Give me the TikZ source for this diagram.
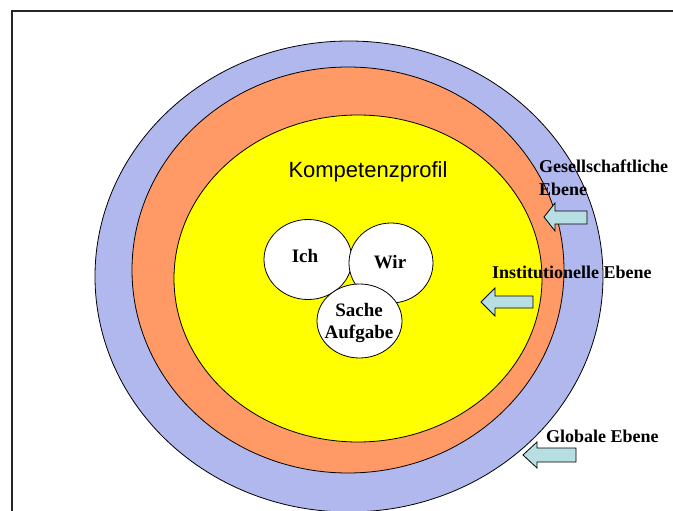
\documentclass[tikz,border=0pt]{standalone}
\usepackage{fontspec}
\setmainfont{Liberation Serif}
\newfontfamily\arialfont{Liberation Sans}
\usetikzlibrary{shapes.geometric}
\definecolor{ringblue}{RGB}{176,184,238}
\definecolor{ringorange}{RGB}{255,153,102}
\definecolor{ringyellow}{RGB}{255,255,0}
\definecolor{arrowfill}{RGB}{183,222,224}
\tikzset{
  ring/.style={draw=black, line width=0.8pt},
  bubble/.style={ellipse, draw=black, fill=white, line width=0.8pt, inner sep=0pt},
  bubbletext/.style={font=\bfseries\fontsize{19}{22}\selectfont, anchor=base, inner sep=0pt},
  leveltext/.style={font=\bfseries\fontsize{18}{23}\selectfont, anchor=base west, inner sep=0pt, align=left},
  blockarrow/.style={draw=black, fill=arrowfill, line width=0.8pt, line join=miter},
}
\begin{document}
\begin{tikzpicture}[x=1pt,y=-1pt]
\useasboundingbox (0,0) rectangle (673,511);
\fill[white] (0,0) rectangle (673,511);
% frame
\coordinate (ftr) at (673,10.7);
\coordinate (ftl) at (12.3,10.7);
\coordinate (fbl) at (12.3,511);
\draw[line width=2pt, draw=black!85] (ftr) -- (ftl) -- (fbl);
% rings
\draw[ring, fill=ringblue] (349,276.5) ellipse [x radius=254pt, y radius=235.5pt];
\draw[ring, fill=ringorange] (348,270) ellipse [x radius=216pt, y radius=203pt];
\draw[ring, fill=ringyellow] (358,278.5) ellipse [x radius=184pt, y radius=163.5pt];
% title
\node[font=\arialfont\fontsize{22}{26}\selectfont, anchor=base, inner sep=0pt] (title) at (368,177) {Kompetenzprofil};
% bubbles
\node[bubble, minimum width=88pt, minimum height=80pt] (ich) at (308,259.5) {};
\node[bubble, minimum width=84pt, minimum height=80pt] (wir) at (391,263) {};
\node[bubble, minimum width=85pt, minimum height=74pt] (sache) at (359.5,321) {};
\node[bubbletext] (ichtext) at (305,262.5) {Ich};
\node[bubbletext] (wirtext) at (390,268) {Wir};
\node[bubbletext] (sachetext) at (359,316) {Sache};
\node[bubbletext] (aufgabetext) at (359,338) {Aufgabe};
% level labels
\node[leveltext] (gesell) at (539,172) {Gesellschaftliche};
\node[leveltext] (gesell2) at (539,195) {Ebene};
\node[leveltext] (inst) at (492,278) {Institutionelle Ebene};
\node[leveltext] (glob) at (546,442) {Globale Ebene};
% block arrows
\draw[blockarrow] (544,217) -- (555,203) -- (555,211) -- (587,211) -- (587,224) -- (555,224) -- (555,231) -- cycle;
\draw[blockarrow] (481,302) -- (495,288) -- (495,296) -- (533,296) -- (533,308) -- (495,308) -- (495,316) -- cycle;
\draw[blockarrow] (523,455) -- (537,442) -- (537,448) -- (576,448) -- (576,462) -- (537,462) -- (537,468) -- cycle;
\end{tikzpicture}
\end{document}
